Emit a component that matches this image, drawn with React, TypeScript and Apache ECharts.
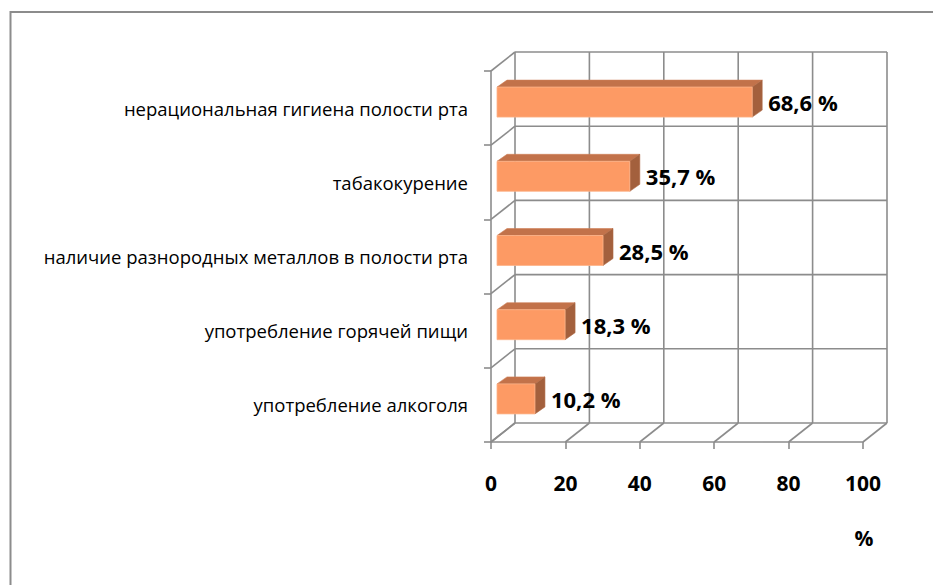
import React, { useEffect, useRef } from "react";
import * as echarts from "echarts";

const categories = [
  "нерациональная гигиена полости рта",
  "табакокурение",
  "наличие разнородных металлов в полости рта",
  "употребление горячей пищи",
  "употребление алкоголя",
];
const values = [68.6, 35.7, 28.5, 18.3, 10.2];
const xTicks = [0, 20, 40, 60, 80, 100];
const rowBoundaries = [0, 1, 2, 3, 4, 5];
const unitLabel = "%";

const DX = 24;
const DY = -19;
const GRID_COLOR = "#8c8c8c";
const GRID_W = 1.6;
const FONT = "'Open Sans', 'Noto Sans', sans-serif";

export default function App() {
  const ref = useRef<HTMLDivElement>(null);
  useEffect(() => {
    if (!ref.current) return;
    const chart = echarts.init(ref.current, null, { renderer: "svg" });
    const lineStyle = { stroke: GRID_COLOR, lineWidth: GRID_W };
    // slant from a point on the front plane to the back wall
    const slant = (params: any, api: any) => {
      const p = api.coord([api.value(0), api.value(1)]);
      return {
        type: "line",
        shape: { x1: p[0], y1: p[1], x2: p[0] + DX, y2: p[1] + DY },
        style: lineStyle,
      };
    };
    // back wall vertical line at x value
    const backV = (params: any, api: any) => {
      const a = api.coord([api.value(0), 0]);
      const b = api.coord([api.value(0), 5]);
      return {
        type: "line",
        shape: { x1: a[0] + DX, y1: a[1] + DY, x2: b[0] + DX, y2: b[1] + DY },
        style: lineStyle,
      };
    };
    // back wall horizontal line at row boundary
    const backH = (params: any, api: any) => {
      const a = api.coord([0, api.value(1)]);
      const b = api.coord([100, api.value(1)]);
      return {
        type: "line",
        shape: { x1: a[0] + DX, y1: a[1] + DY, x2: b[0] + DX, y2: b[1] + DY },
        style: lineStyle,
      };
    };
    chart.setOption({
      animation: false,
      backgroundColor: "#ffffff",
      grid: [{ left: 491, top: 71, width: 372, height: 371 }],
      xAxis: [
        {
          gridIndex: 0,
          type: "value",
          min: 0,
          max: 100,
          interval: 20,
          axisLine: { show: true, onZero: false, lineStyle: { color: GRID_COLOR, width: GRID_W } },
          axisTick: { show: true, length: 7, lineStyle: { color: GRID_COLOR, width: GRID_W } },
          splitLine: { show: false },
          axisLabel: {
            margin: 30,
            color: "#000",
            fontSize: 21,
            fontWeight: "bold",
            fontFamily: FONT,
          },
        },
      ],
      yAxis: [
        {
          gridIndex: 0,
          type: "category",
          data: categories,
          inverse: true,
          axisLine: { show: true, onZero: false, lineStyle: { color: GRID_COLOR, width: GRID_W } },
          axisTick: { show: true, length: 7, lineStyle: { color: GRID_COLOR, width: GRID_W } },
          axisLabel: { margin: 23, color: "#000", fontSize: 18.5, fontFamily: FONT },
          splitLine: { show: false },
        },
        {
          gridIndex: 0,
          type: "value",
          min: 0,
          max: 5,
          interval: 1,
          inverse: true,
          show: false,
          axisLine: { onZero: false },
        },
      ],
      series: [
        {
          type: "custom",
          xAxisIndex: 0,
          yAxisIndex: 1,
          data: xTicks.map((t) => [t, 0]),
          renderItem: backV,
          silent: true,
          z: 1,
        },
        {
          type: "custom",
          xAxisIndex: 0,
          yAxisIndex: 1,
          data: rowBoundaries.map((b) => [0, b]),
          renderItem: backH,
          silent: true,
          z: 1,
        },
        {
          type: "custom",
          xAxisIndex: 0,
          yAxisIndex: 1,
          data: rowBoundaries.map((b) => [0, b]),
          renderItem: slant,
          silent: true,
          z: 1,
        },
        {
          type: "custom",
          xAxisIndex: 0,
          yAxisIndex: 1,
          data: xTicks.map((t) => [t, 5]),
          renderItem: slant,
          silent: true,
          z: 1,
        },
        {
          type: "custom",
          xAxisIndex: 0,
          yAxisIndex: 0,
          data: values.map((v, i) => [v, i]),
          encode: { x: 0, y: 1 },
          z: 5,
          renderItem: (params: any, api: any) => {
            const v = api.value(0);
            const idx = api.value(1);
            const s = api.coord([0, idx]);
            const e = api.coord([v, idx]);
            const off = 6;
            const h = 30;
            const bx = 10;
            const by = -7;
            const x0 = s[0] + off;
            const x1 = e[0] + off;
            const yc = s[1] - off;
            const y0 = yc - h / 2;
            const y1 = yc + h / 2;
            return {
              type: "group",
              children: [
                {
                  type: "polygon",
                  shape: { points: [[x0, y0], [x1, y0], [x1 + bx, y0 + by], [x0 + bx, y0 + by]] },
                  style: { fill: "#C2724A", stroke: "#CE8058", lineWidth: 0.6 },
                },
                {
                  type: "polygon",
                  shape: { points: [[x1, y0], [x1 + bx, y0 + by], [x1 + bx, y1 + by], [x1, y1]] },
                  style: { fill: "#A3603D", stroke: "#AE6843", lineWidth: 0.6 },
                },
                {
                  type: "rect",
                  shape: { x: x0, y: y0, width: x1 - x0, height: h },
                  style: { fill: "#FD9A64", stroke: "#FDB48A", lineWidth: 0.8 },
                },
                {
                  type: "text",
                  x: x1 + bx + 6,
                  y: yc,
                  style: {
                    text: String(v).replace(".", ",") + " %",
                    fill: "#000",
                    font: `bold 22px ${FONT}`,
                    verticalAlign: "middle",
                    align: "left",
                  },
                },
              ],
            };
          },
        },
      ],
      graphic: [
        {
          type: "rect",
          shape: { x: 10.5, y: 12, width: 1000, height: 700 },
          style: { fill: "none", stroke: "#8c8c8c", lineWidth: 2 },
          silent: true,
        },
        {
          type: "text",
          x: 864,
          y: 538,
          style: {
            text: unitLabel,
            fill: "#000",
            font: `bold 21px ${FONT}`,
            align: "center",
            verticalAlign: "middle",
          },
        },
      ],
    });
    return () => chart.dispose();
  }, []);
  return (
    <div
      ref={ref}
      style={{ position: "fixed", left: 0, top: 0, width: 933, height: 585 }}
    />
  );
}
